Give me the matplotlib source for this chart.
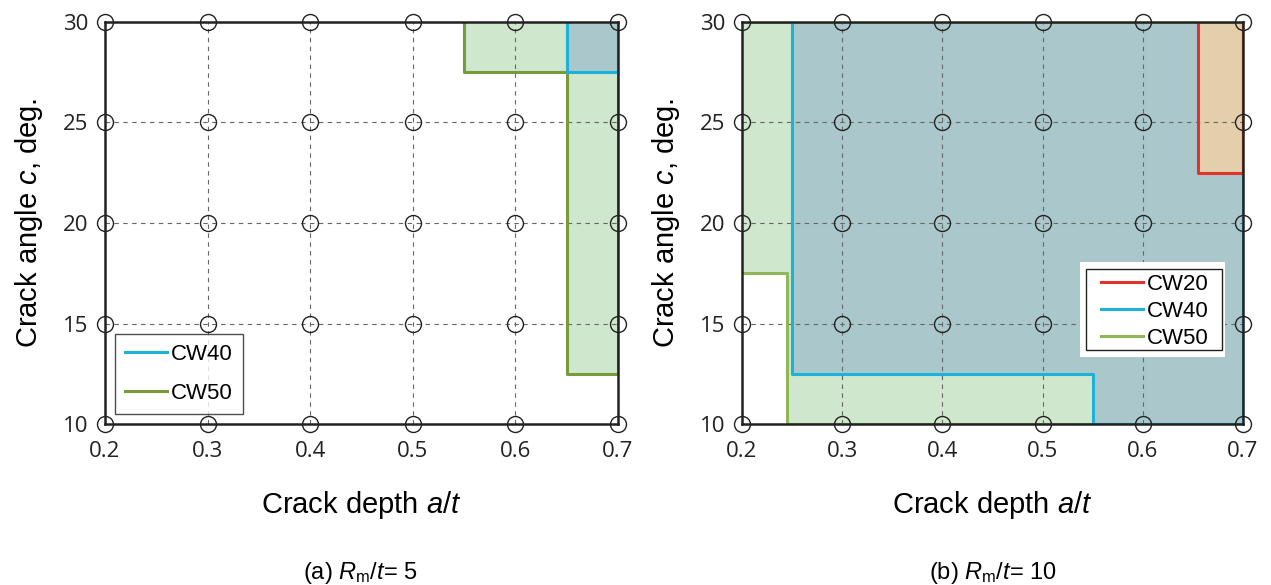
import matplotlib
matplotlib.use('Agg')
import matplotlib.pyplot as plt
from matplotlib.patches import Rectangle

plt.rcParams['font.family'] = 'Liberation Sans'
plt.rcParams['mathtext.fontset'] = 'custom'
plt.rcParams['mathtext.rm'] = 'Liberation Sans'
plt.rcParams['mathtext.it'] = 'Liberation Sans:italic'

# grid of analysed cases
depths = [0.2, 0.3, 0.4, 0.5, 0.6, 0.7]
angles = [10, 15, 20, 25, 30]

# (a) Rm/t = 5 : regions (boundary steps)
a_cw50_x = [0.55, 0.55, 0.65, 0.65, 0.7, 0.7]
a_cw50_y = [30, 27.5, 27.5, 12.5, 12.5, 30]
a_cw40_x = [0.65, 0.65, 0.7, 0.7]
a_cw40_y = [30, 27.5, 27.5, 30]

# (b) Rm/t = 10
b_cw50_x = [0.2, 0.245, 0.245, 0.7, 0.7, 0.2]
b_cw50_y = [17.5, 17.5, 10, 10, 30, 30]
b_cw40_x = [0.25, 0.25, 0.55, 0.55, 0.7, 0.7]
b_cw40_y = [30, 12.5, 12.5, 10, 10, 30]
b_cw20_x = [0.655, 0.655, 0.7, 0.7]
b_cw20_y = [30, 22.5, 22.5, 30]

red = '#e2322b'
blue = '#1db2d9'
green_a = '#779a3a'
green_b = '#8fb657'
fill_green = '#cfe7cd'
fill_blue = '#aac8cc'
fill_red = '#e3cfab'

fig = plt.figure(figsize=(12.71, 5.85), dpi=100)
ax1 = fig.add_axes([0.0826, 0.2752, 0.4036, 0.6872])
ax2 = fig.add_axes([0.5838, 0.2752, 0.3942, 0.6872])


def base(ax):
    ax.set_xlim(0.2, 0.7)
    ax.set_ylim(10, 30)
    ax.set_xticks(depths)
    ax.set_yticks(angles)
    ax.set_xticklabels(['%.1f' % d for d in depths])
    ax.tick_params(length=0, labelsize=16)
    ax.tick_params(axis='x', pad=12)
    ax.tick_params(axis='y', pad=12)
    for lab in ax.get_xticklabels() + ax.get_yticklabels():
        lab.set_family('Open Sans')
        lab.set_color('#222222')
    ax.grid(True, linestyle=(0, (4, 4)), color='#666666', linewidth=0.8)
    ax.set_axisbelow(False)
    for s in ax.spines.values():
        s.set_color('#222222')
        s.set_linewidth(1.8)
        s.set_zorder(6)
    for d in depths:
        ax.plot([d] * len(angles), angles, 'o', mfc='none', mec='#222222',
                ms=11.5, mew=1.0, clip_on=False, zorder=7)
    ax.set_xlabel('Crack depth $a$/$t$', fontsize=21, labelpad=20)
    ax.set_ylabel('Crack angle $c$, deg.', fontsize=21, labelpad=13)


def region(ax, xs, ys, fc, ec, label):
    ax.fill(xs, ys, facecolor=fc, edgecolor='none', zorder=1)
    ln, = ax.plot(xs, ys, color=ec, linewidth=2.2, zorder=3, label=label)
    return ln

base(ax1)
l50 = region(ax1, a_cw50_x, a_cw50_y, fill_green, green_a, 'CW50')
l40 = region(ax1, a_cw40_x, a_cw40_y, fill_blue, blue, 'CW40')
leg1 = ax1.legend([l40, l50], ['CW40', 'CW50'], loc='lower left',
                  bbox_to_anchor=(0.02, 0.025), fontsize=16, frameon=True,
                  fancybox=False, edgecolor='#222222', labelspacing=0.8,
                  handlelength=1.9, handletextpad=0.15, borderpad=0.45,
                  borderaxespad=0)
leg1.get_frame().set_linewidth(1.0)
leg1.set_zorder(8)

base(ax2)
m50 = region(ax2, b_cw50_x, b_cw50_y, fill_green, green_b, 'CW50')
m40 = region(ax2, b_cw40_x, b_cw40_y, fill_blue, blue, 'CW40')
m20 = region(ax2, b_cw20_x, b_cw20_y, fill_red, red, 'CW20')
# white card with a framed legend inside
ax2.add_patch(Rectangle((0.675, 0.167), 0.289, 0.236, transform=ax2.transAxes,
                        facecolor='white', edgecolor='none', zorder=7.5))
ax2.add_patch(Rectangle((0.687, 0.184), 0.271, 0.202, transform=ax2.transAxes,
                        facecolor='white', edgecolor='#222222', linewidth=1.0,
                        zorder=7.6))
leg2 = ax2.legend([m20, m40, m50], ['CW20', 'CW40', 'CW50'], loc='center',
                  bbox_to_anchor=(0.824, 0.28), fontsize=16, frameon=False,
                  labelspacing=0.26, handlelength=1.9, handletextpad=0.15,
                  borderpad=0, borderaxespad=0)
leg2.set_zorder(8)

fig.text(0.2835, 0.01, '(a) $R_{\\mathrm{m}}$/$t$= 5', ha='center', fontsize=17)
fig.text(0.7809, 0.01, '(b) $R_{\\mathrm{m}}$/$t$= 10', ha='center', fontsize=17)

fig.savefig('out.png', dpi=100)
